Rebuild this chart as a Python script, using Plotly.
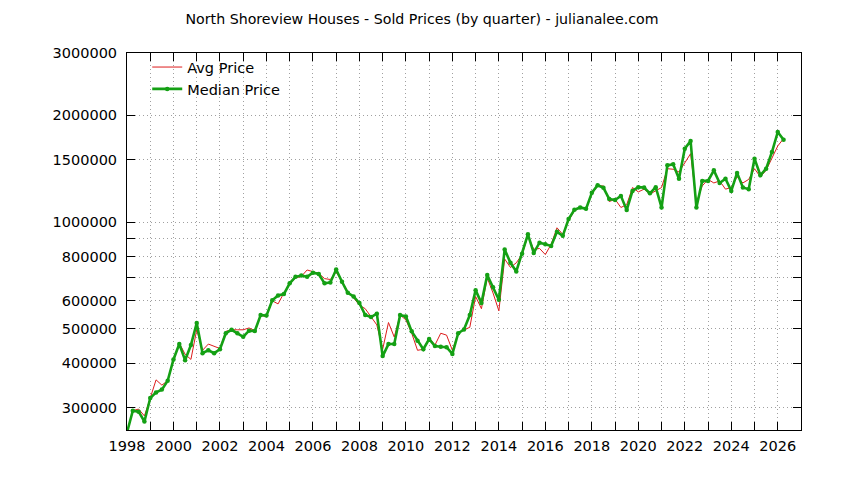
import plotly.graph_objects as go

# quarterly sold prices (first quarter of 1998 onward)
avg_price = [
    255000, 294000, 297000, 284000,
    319000, 359000, 347000, 357000,
    406000, 456000, 424000, 410000,
    497000, 435000, 453000, 447000,
    440000, 492000, 497000, 497000,
    497000, 503000, 494000, 545000,
    542000, 600000, 588000, 631000,
    672000, 696000, 703000, 733000,
    724000, 717000, 693000, 689000,
    724000, 679000, 637000, 612000,
    583000, 570000, 542000, 513000,
    438000, 521000, 474000, 547000,
    530000, 486000, 435000, 438000,
    471000, 450000, 486000, 480000,
    435000, 486000, 497000, 505000,
    617000, 570000, 696000, 631000,
    562000, 787000, 745000, 768000,
    810000, 915000, 838000, 843000,
    810000, 866000, 964000, 924000,
    1010000, 1076000, 1100000, 1095000,
    1200000, 1265000, 1265000, 1143000,
    1160000, 1100000, 1120000, 1252000,
    1217000, 1239000, 1200000, 1225000,
    1252000, 1415000, 1410000, 1385000,
    1470000, 1560000, 1135000, 1265000,
    1320000, 1290000, 1307000, 1239000,
    1252000, 1343000, 1290000, 1320000,
    1415000, 1343000, 1400000, 1520000,
    1640000, 1720000,
]

median_price = [
    255000, 294000, 292000, 274000,
    319000, 331000, 337000, 357000,
    410000, 453000, 408000, 450000,
    519000, 427000, 435000, 427000,
    438000, 486000, 497000, 486000,
    475000, 494000, 493000, 547000,
    545000, 602000, 621000, 627000,
    672000, 701000, 707000, 701000,
    720000, 714000, 672000, 676000,
    735000, 679000, 632000, 617000,
    591000, 547000, 540000, 552000,
    419000, 453000, 453000, 547000,
    542000, 492000, 463000, 438000,
    468000, 447000, 445000, 444000,
    425000, 486000, 498000, 547000,
    643000, 591000, 709000, 655000,
    604000, 837000, 768000, 726000,
    815000, 924000, 819000, 875000,
    866000, 857000, 939000, 915000,
    1020000, 1083000, 1100000, 1090000,
    1210000, 1271000, 1250000, 1162000,
    1155000, 1186000, 1082000, 1225000,
    1255000, 1252000, 1206000, 1255000,
    1100000, 1446000, 1456000, 1326000,
    1612000, 1694000, 1100000, 1307000,
    1307000, 1400000, 1290000, 1326000,
    1225000, 1377000, 1252000, 1239000,
    1510000, 1357000, 1415000, 1577000,
    1796000, 1707000,
]

quarters = [1998 + i / 4 for i in range(len(median_price))]

y_ticks = [300000, 400000, 500000, 600000, 700000, 800000, 900000,
           1000000, 1500000, 2000000, 3000000]
y_labels = ["300000", "400000", "500000", "600000", "", "800000", "",
            "1000000", "1500000", "2000000", "3000000"]

FONT = "DejaVu Sans"
GRID = "#a0a0a0"
DOTS = "1px,3px"

# the page body adds an 8px margin, so the figure is a bit smaller than the window
W, H = 836, 472

fig = go.Figure()
fig.add_trace(go.Scatter(
    x=quarters, y=avg_price, name="Avg Price", mode="lines",
    line=dict(color="#dd1c1c", width=1),
))
fig.add_trace(go.Scatter(
    x=quarters, y=median_price, name="Median Price", mode="lines+markers",
    line=dict(color="#14a014", width=2.6),
    marker=dict(color="#14a014", size=4.5, symbol="circle"),
))

fig.update_layout(
    width=W,
    height=H,
    margin=dict(l=119, r=43, t=45, b=50),
    paper_bgcolor="white",
    plot_bgcolor="white",
    font=dict(family=FONT, size=14.5, color="black"),
    title=dict(
        text="North Shoreview Houses - Sold Prices (by quarter) - julianalee.com",
        x=414 / W, xref="container", xanchor="center",
        y=1 - 11 / H, yref="container", yanchor="middle",
        font=dict(family=FONT, size=14.2, color="black"),
    ),
    legend=dict(
        x=0.03, y=1.005, xanchor="left", yanchor="top",
        bgcolor="rgba(255,255,255,0)",
        font=dict(family=FONT, size=14.5),
        tracegroupgap=0,
    ),
    hovermode=False,
)

fig.update_xaxes(
    range=[1998, 2027],
    tick0=1998, dtick=2,
    ticks="inside", ticklen=8, tickcolor="black",
    ticklabelstandoff=3,
    showline=True, linecolor="black", linewidth=1, mirror="ticks",
    showgrid=True, gridcolor=GRID, griddash=DOTS, gridwidth=1,
    minor=dict(dtick=1, tick0=1998, ticks="inside", ticklen=8,
               tickcolor="black", showgrid=True, gridcolor=GRID,
               griddash=DOTS, gridwidth=1),
    zeroline=False,
    tickfont=dict(family=FONT, size=14.5),
)
fig.update_yaxes(
    type="log",
    range=[5.4137, 6.4771],
    tickmode="array", tickvals=y_ticks, ticktext=y_labels,
    ticks="inside", ticklen=8, tickcolor="black",
    ticklabelstandoff=6,
    showline=True, linecolor="black", linewidth=1, mirror="ticks",
    showgrid=True, gridcolor=GRID, griddash=DOTS, gridwidth=1,
    zeroline=False,
    tickfont=dict(family=FONT, size=14.5),
)

fig.write_html("out.html")
